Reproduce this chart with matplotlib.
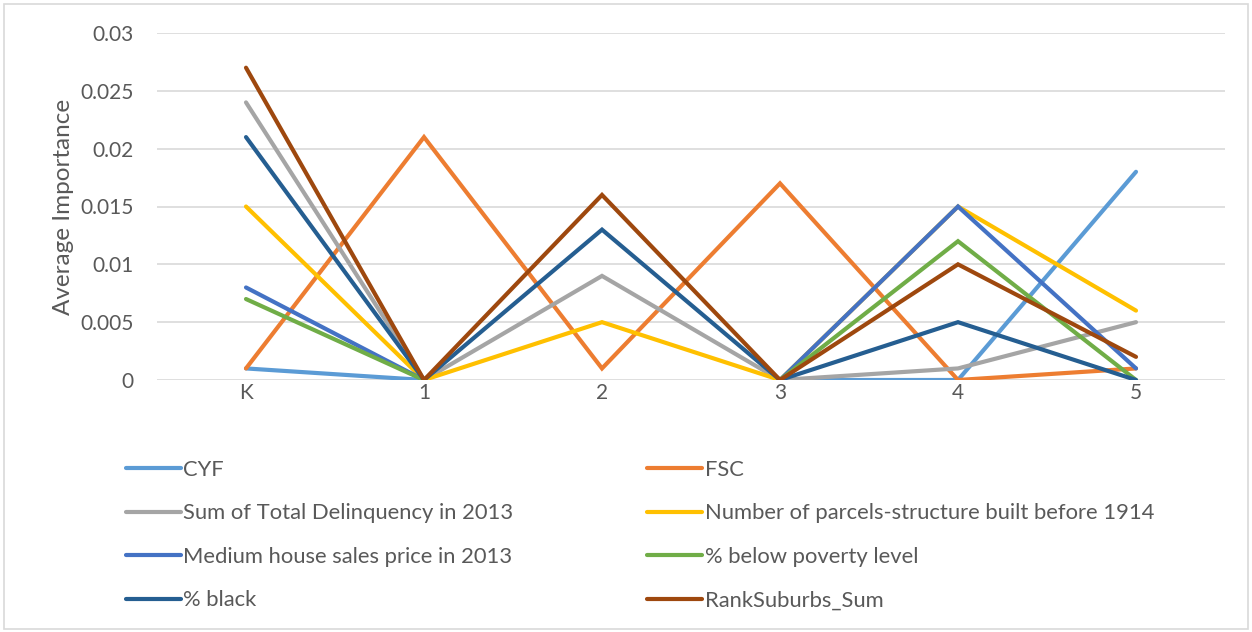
import numpy as np
import matplotlib
matplotlib.use("Agg")
import matplotlib.pyplot as plt
from matplotlib.patches import Rectangle

plt.rcParams['font.family'] = ['Lato', 'DejaVu Sans']

# grades / categories
cats = ['K', '1', '2', '3', '4', '5']
nan = np.nan

cyf = [0.001, 0, nan, 0, 0, 0.018]
fsc = [0.001, 0.021, 0.001, 0.017, 0, 0.001]
delinq = [0.024, 0, 0.009, 0, 0.001, 0.005]
parcels = [0.015, 0, 0.005, 0, 0.015, 0.006]
house = [0.008, 0, nan, 0, 0.015, 0.001]
poverty = [0.007, 0, nan, 0, 0.012, 0]
black = [0.021, 0, 0.013, 0, 0.005, 0]
suburbs = [0.027, 0, 0.016, 0, 0.01, 0.002]

names = ['CYF', 'FSC', 'Sum of Total Delinquency in 2013',
         'Number of parcels-structure built before 1914',
         'Medium house sales price in 2013', '% below poverty level',
         '% black', 'RankSuburbs_Sum']
series = [cyf, fsc, delinq, parcels, house, poverty, black, suburbs]
colors = ['#5B9BD5', '#ED7D31', '#A5A5A5', '#FFC000',
          '#4472C4', '#70AD47', '#255E91', '#9E480E']

txt = '#595959'

fig = plt.figure(figsize=(12.52, 6.32), dpi=100)
ax = fig.add_axes([157/1252, 1-380/632, (1225-157)/1252, (380-33)/632])

x = np.arange(len(cats))
handles = []
for vals, name, c in zip(series, names, colors):
    h, = ax.plot(x, vals, color=c, lw=3.0, solid_capstyle='round',
                 solid_joinstyle='miter', label=name)
    handles.append(h)

ax.set_xlim(-0.5, len(cats) - 0.5)
ax.set_ylim(0, 0.03)
ax.set_yticks([0, 0.005, 0.01, 0.015, 0.02, 0.025, 0.03])
ax.set_yticklabels(['0', '0.005', '0.01', '0.015', '0.02', '0.025', '0.03'])
ax.set_xticks(x)
ax.set_xticklabels(cats)
ax.tick_params(length=0, labelsize=15, colors=txt, pad=17)
ax.tick_params(axis='x', pad=2)
ax.grid(axis='y', color='#D9D9D9', lw=1.2)
ax.set_axisbelow(True)
for s in ax.spines.values():
    s.set_visible(False)
ax.set_ylabel('Average Importance', fontsize=17.5, color=txt, labelpad=4)

order = [0, 2, 4, 6, 1, 3, 5, 7]
leg = fig.legend([handles[i] for i in order], [names[i] for i in order],
                 ncol=2, loc='upper left', bbox_to_anchor=(117/1252, 1-451/632),
                 frameon=False, fontsize=15.8, handlelength=2.5,
                 handletextpad=0.12, columnspacing=6.1, labelspacing=1.07,
                 borderaxespad=0)
for t in leg.get_texts():
    t.set_color(txt)

fig.patches.append(Rectangle((4/1252, 3/632), 1244/1252, 625/632,
                             transform=fig.transFigure, fill=False,
                             edgecolor='#D9D9D9', lw=1.2))

fig.savefig('out.png', dpi=100, facecolor='white')
